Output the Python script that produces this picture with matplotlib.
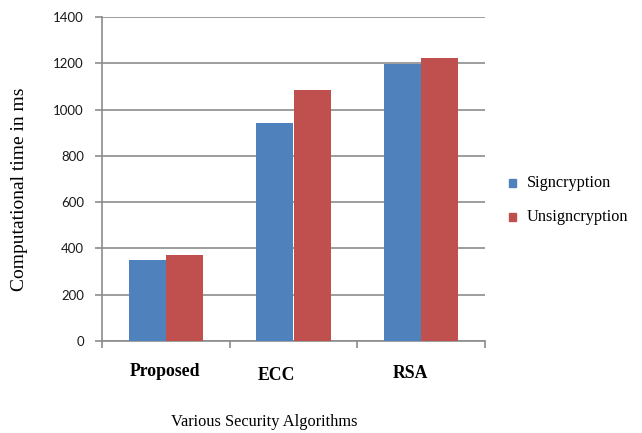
import matplotlib
matplotlib.use("Agg")
import matplotlib.pyplot as plt
import numpy as np
from matplotlib.patches import Rectangle

categories = ["Proposed", "ECC", "RSA"]
signcryption = [349, 940, 1198]
unsigncryption = [373, 1085, 1224]
series_names = ["Signcryption", "Unsigncryption"]
colors = ["#4F81BD", "#C0504D"]

fig = plt.figure(figsize=(6.42, 4.33), dpi=100)
ax = fig.add_axes([102/642, 1-341/433, (485-102)/642, (341-17)/433])

x = np.arange(len(categories))
w = 0.29
ax.bar(x - w/2, signcryption, w, color=colors[0], zorder=3)
ax.bar(x + w/2, unsigncryption, w, color=colors[1], zorder=3)

ax.set_xlim(-0.5, 2.5)
ax.set_ylim(0, 1400)
ax.set_yticks(np.arange(0, 1401, 200))
ax.yaxis.grid(True, color="#8C8C8C", linewidth=1.2, zorder=0)
ax.set_axisbelow(True)
for s in ["top", "right"]:
    ax.spines[s].set_visible(False)
for s in ["left", "bottom"]:
    ax.spines[s].set_color("#8C8C8C")
    ax.spines[s].set_linewidth(1.2)
ax.set_xticks([-0.5, 0.5, 1.5, 2.5])
ax.set_xticklabels([])
ax.tick_params(axis="both", direction="out", color="#8C8C8C", length=5, width=1.2)
ax.tick_params(axis="y", labelsize=9.5, labelcolor="#1a1a1a", pad=8)
for lab in ax.get_yticklabels():
    lab.set_family("Lato")

# category labels (manually offset as in reference)
cat_pos = [(165, 372), (276, 376), (410, 373)]
for name, (px, py) in zip(categories, cat_pos):
    fig.text(px/642, 1-py/433, name, ha="center", va="center",
             family="Liberation Serif", fontweight="bold", fontsize=12.8)

fig.text(264/642, 1-422/433, "Various Security Algorithms", ha="center", va="center",
         family="Liberation Serif", fontsize=11.8)
fig.text(20/642, 1-189/433, "Computational time in ms", ha="center", va="center",
         rotation=90, family="Liberation Serif", fontsize=14)

# legend
for i, (nm, c) in enumerate(zip(series_names, colors)):
    yc = [183, 217][i]
    fig.patches.append(Rectangle((509/642, 1-(yc+4)/433), 7/642, 8/433,
                                 transform=fig.transFigure, color=c))
    fig.text(527/642, 1-yc/433, nm, ha="left", va="center",
             family="Liberation Serif", fontsize=11.7)

fig.savefig("out.png", dpi=100)
